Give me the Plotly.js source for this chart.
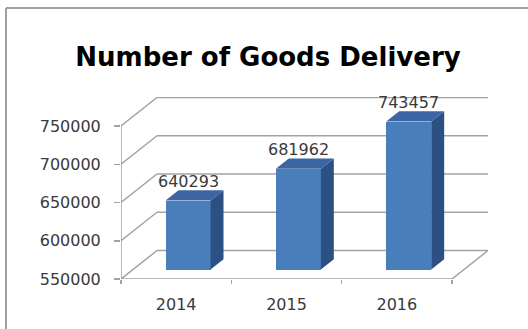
<!DOCTYPE html>
<html>
<head>
<meta charset="utf-8">
<script src="https://cdn.plot.ly/plotly-3.0.1.min.js"></script>
<style>html,body{margin:0;padding:0;background:#fff;}#chart{width:528px;height:329px;}</style>
</head>
<body>
<div id="chart"></div>
<script>
// ---- data ----
const categories = ['2014', '2015', '2016'];
const deliveries = [640293, 681962, 743457];
const yTickValues = [550000, 600000, 650000, 700000, 750000];
const yTickLabels = ['550000', '600000', '650000', '700000', '750000'];
const chartTitle = 'Number of Goods Delivery';

// ---- 3D look (styling / geometry) ----
const W = 528, H = 329;
const plotLeft = 121, plotRight = 492, plotTop = 97, plotBottom = 279;
const pxPerCat = 110.33;            // front-plane pixels per category
const pxPerUnit = 38.25 / 50000;    // front-plane pixels per value unit
const depthPxX = 36, depthPxY = 28.5;
const yMin = yTickValues[0];
const yMax = yMin + (plotBottom - plotTop) / pxPerUnit;
const xMin = -0.5;
const xMax = xMin + (plotRight - plotLeft) / pxPerCat;
const dxC = depthPxX / pxPerCat;    // depth in category units
const dyV = depthPxY / pxPerUnit;   // depth in value units
const f1 = 0.33, f2 = 0.69;         // bar front/back depth fractions
const barW = 45 / pxPerCat;
const frontCol = '#4a7ebb', sideCol = '#2d5082', topCol = '#3b66a3';
const gridCol = '#a3a3a3';
const textCol = '#3a3a3a';
const n = categories.length;
const idx = categories.map((c, i) => i);

const traces = [];
// front faces
traces.push({
  type: 'bar', x: idx, y: deliveries.map(v => v - yMin), base: yMin + f1 * dyV,
  width: barW, offset: -barW / 2 + f1 * dxC,
  marker: {color: frontCol, line: {width: 0}}, hoverinfo: 'skip', showlegend: false
});
// side and top faces
deliveries.forEach((v, i) => {
  const xl = i - barW / 2 + f1 * dxC, xr = xl + barW;
  const ddx = (f2 - f1) * dxC, ddy = (f2 - f1) * dyV;
  const b = yMin + f1 * dyV, t = v + f1 * dyV;
  traces.push({
    type: 'scatter', mode: 'lines', fill: 'toself', fillcolor: sideCol,
    line: {width: 0, color: sideCol},
    x: [xr, xr + ddx, xr + ddx, xr, xr], y: [b, b + ddy, t + ddy, t, b],
    hoverinfo: 'skip', showlegend: false
  });
  traces.push({
    type: 'scatter', mode: 'lines', fill: 'toself', fillcolor: topCol,
    line: {width: 0, color: topCol},
    x: [xl, xr, xr + ddx, xl + ddx, xl], y: [t, t, t + ddy, t + ddy, t],
    hoverinfo: 'skip', showlegend: false
  });
});

const shapes = [];
const ln = (x0, y0, x1, y1) => ({type: 'line', xref: 'x', yref: 'y', x0, y0, x1, y1,
  line: {color: gridCol, width: 1.5}, layer: 'below'});
yTickValues.forEach(v => {
  shapes.push(ln(xMin + dxC, v + dyV, n - 0.5 + dxC, v + dyV));
  shapes.push(ln(xMin, v, xMin + dxC, v + dyV));
});
shapes.push(ln(xMin, yMin, n - 0.5, yMin));
shapes.push(ln(n - 0.5, yMin, n - 0.5 + dxC, yMin + dyV));
shapes.push(ln(xMin, yMin, xMin, yTickValues[yTickValues.length - 1]));
// chart border (top and left)
const pw = plotRight - plotLeft, ph = plotBottom - plotTop;
const borderY = (plotBottom - 8) / ph, borderX = (6 - plotLeft) / pw;
shapes.push({type: 'line', xref: 'paper', yref: 'paper', x0: borderX, x1: (W - plotLeft) / pw, y0: borderY, y1: borderY, line: {color: '#a0a0a0', width: 2}});
shapes.push({type: 'line', xref: 'paper', yref: 'paper', x0: borderX, x1: borderX, y0: (plotBottom - H) / ph, y1: borderY, line: {color: '#a0a0a0', width: 2}});

const annotations = deliveries.map((v, i) => ({
  x: i + f1 * dxC, y: v + f2 * dyV, xref: 'x', yref: 'y', text: String(v),
  showarrow: false, yanchor: 'middle', yshift: 9,
  font: {family: 'DejaVu Sans', size: 16, color: textCol}
}));

const layout = {
  width: W, height: H,
  margin: {l: plotLeft, r: W - plotRight, t: plotTop, b: H - plotBottom, pad: 0},
  paper_bgcolor: '#ffffff', plot_bgcolor: 'rgba(0,0,0,0)',
  title: {text: chartTitle, x: 268 / W, xanchor: 'center', y: 1 - 57 / H, yanchor: 'middle', yref: 'container',
    font: {family: 'DejaVu Sans', size: 26, color: '#000000', weight: 'bold'}},
  xaxis: {range: [xMin, xMax], tickvals: idx, ticktext: categories, ticks: '',
    showgrid: false, zeroline: false, showline: false, ticklabelstandoff: 14,
    minor: {tickvals: idx.map(i => i - 0.5).concat([n - 0.5]), ticks: 'outside', ticklen: 4, tickcolor: gridCol, tickwidth: 1.5, showgrid: false},
    tickfont: {family: 'DejaVu Sans', size: 16, color: textCol}, fixedrange: true},
  yaxis: {range: [yMin, yMax], tickvals: yTickValues, ticktext: yTickLabels, ticks: 'outside', ticklen: 6, tickcolor: gridCol, tickwidth: 1.5,
    showgrid: false, zeroline: false, showline: false, ticklabelstandoff: 10,
    tickfont: {family: 'DejaVu Sans', size: 16, color: textCol}, fixedrange: true},
  shapes, annotations, showlegend: false, bargap: 0
};
Plotly.newPlot('chart', traces, layout, {staticPlot: true, displayModeBar: false});
</script>
</body>
</html>
